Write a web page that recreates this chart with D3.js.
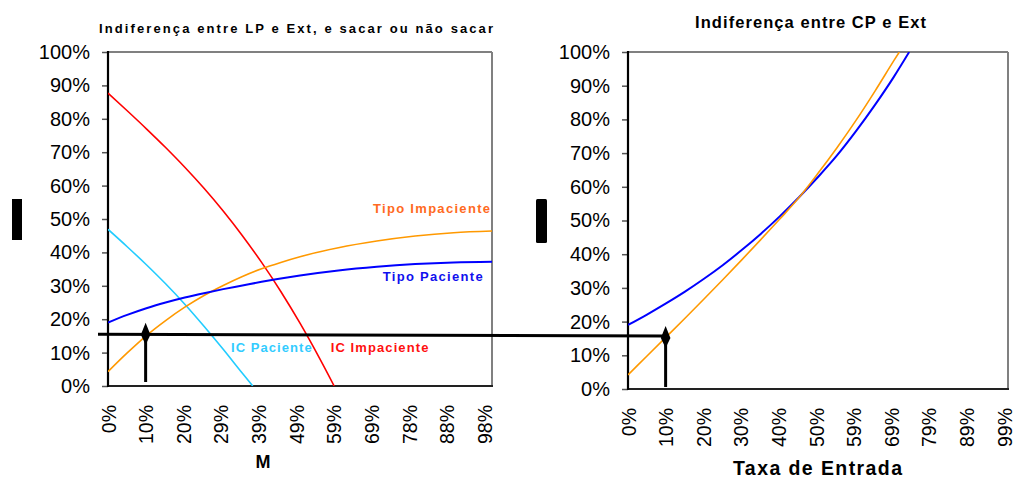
<!DOCTYPE html>
<html><head><meta charset="utf-8">
<script src="https://cdn.jsdelivr.net/npm/d3@7"></script>
<style>
html,body{margin:0;padding:0;background:#fff;}
svg{display:block;font-family:"Liberation Sans",Arial,sans-serif;}
</style></head>
<body><svg id="c" width="1015" height="479"></svg>
<script>
// ---------- data ----------
const yTickVals = [0,0.1,0.2,0.3,0.4,0.5,0.6,0.7,0.8,0.9,1.0];
const yTickLabels = ["0%","10%","20%","30%","40%","50%","60%","70%","80%","90%","100%"];

const xTickValsL = [0,0.098,0.196,0.294,0.392,0.49,0.588,0.686,0.784,0.882,0.98];
const xTickLabelsL = ["0%","10%","20%","29%","39%","49%","59%","69%","78%","88%","98%"];
const xTickValsR = [0,0.099,0.198,0.297,0.396,0.495,0.594,0.693,0.792,0.891,0.99];
const xTickLabelsR = ["0%","10%","20%","30%","40%","50%","59%","69%","79%","89%","99%"];

// Left chart: M vs value
const icImpM = [0,0.05,0.1,0.15,0.2,0.25,0.3,0.35,0.4,0.45,0.5,0.55,0.589];
const icImpV = [0.877,0.824,0.77,0.714,0.655,0.592,0.524,0.45,0.37,0.283,0.188,0.085,0];
const icPacM = [0,0.05,0.1,0.15,0.2,0.25,0.3,0.35,0.377];
const icPacV = [0.469,0.417,0.363,0.306,0.245,0.179,0.11,0.038,0];
const tipoImpM = [0,0.05,0.1,0.15,0.2,0.25,0.3,0.35,0.4,0.45,0.5,0.6,0.7,0.8,0.9,1.0];
const tipoImpV = [0.043,0.099,0.151,0.196,0.236,0.271,0.301,0.328,0.351,0.37,0.387,0.414,0.434,0.449,0.459,0.464];
const tipoPacM = [0,0.05,0.1,0.15,0.2,0.25,0.3,0.35,0.4,0.5,0.6,0.7,0.8,0.9,1.0];
const tipoPacV = [0.19,0.213,0.233,0.25,0.265,0.278,0.29,0.301,0.312,0.331,0.346,0.357,0.365,0.37,0.372];

// Right chart: Taxa de Entrada vs value
const rBlueT = [0,0.05,0.1,0.15,0.2,0.25,0.3,0.35,0.4,0.45,0.5,0.55,0.6,0.65,0.7,0.74];
const rBlueV = [0.19,0.221,0.254,0.289,0.327,0.368,0.413,0.461,0.513,0.569,0.629,0.693,0.765,0.843,0.927,1.0];
const rOrT = [0,0.05,0.1,0.15,0.2,0.25,0.3,0.35,0.4,0.45,0.5,0.55,0.6,0.65,0.7,0.714];
const rOrV = [0.042,0.098,0.154,0.21,0.267,0.325,0.384,0.444,0.505,0.568,0.64,0.716,0.797,0.884,0.975,1.0];

// annotation values
const refLevelL = 0.155, refLevelR = 0.157;
const arrowXL = 0.098, arrowXR = 0.099;
const arrowTipL = 0.189, arrowBaseL = 0.012;
const arrowTipR = 0.187, arrowBaseR = 0.006;

// ---------- drawing ----------
const svg = d3.select("#c");
const font = '"Liberation Sans",Arial,sans-serif';

const L = {x0:108, x1:492, y0:386, y1:52};
const R = {x0:628, x1:1008, y0:389, y1:52};
const xL = d3.scaleLinear().domain([0,1]).range([L.x0,L.x1]);
const yL = d3.scaleLinear().domain([0,1]).range([L.y0,L.y1]);
const xR = d3.scaleLinear().domain([0,1]).range([R.x0,R.x1]);
const yR = d3.scaleLinear().domain([0,1]).range([R.y0,R.y1]);

const defs = svg.append("defs");
defs.append("clipPath").attr("id","clipL").append("rect")
  .attr("x",L.x0).attr("y",L.y1).attr("width",L.x1-L.x0).attr("height",L.y0-L.y1);
defs.append("clipPath").attr("id","clipR").append("rect")
  .attr("x",R.x0).attr("y",R.y1).attr("width",R.x1-R.x0).attr("height",R.y0-R.y1);

function frame(P, x, y, xVals, xLabels){
  const ya = d3.axisLeft(y).tickValues(yTickVals).tickFormat((d,i)=>yTickLabels[i]).tickSize(6).tickPadding(12);
  const g = svg.append("g").attr("transform",`translate(${P.x0},0)`).call(ya);
  g.select(".domain").remove();
  g.selectAll(".tick line").attr("stroke","#555").attr("stroke-width",1.5);
  g.selectAll(".tick text").attr("font-family",font).attr("font-size","20px").attr("fill","#000");
  const xa = d3.axisBottom(x).tickValues(xVals).tickFormat((d,i)=>xLabels[i]).tickSize(0);
  const gx = svg.append("g").attr("transform",`translate(0,${P.y0})`).call(xa);
  gx.select(".domain").remove();
  gx.selectAll(".tick text")
    .attr("font-family",font).attr("font-size","19.5px").attr("fill","#000")
    .attr("text-anchor","end").attr("y",0).attr("x",0).attr("dy","0.36em")
    .attr("transform","translate(0,19) rotate(-90)");
  svg.append("line").attr("x1",P.x0).attr("x2",P.x1).attr("y1",P.y1).attr("y2",P.y1).attr("stroke","#808080").attr("stroke-width",2);
  svg.append("line").attr("x1",P.x1).attr("x2",P.x1).attr("y1",P.y1).attr("y2",P.y0).attr("stroke","#808080").attr("stroke-width",2);
  svg.append("line").attr("x1",P.x0).attr("x2",P.x1+1).attr("y1",P.y0).attr("y2",P.y0).attr("stroke","#222").attr("stroke-width",2);
  svg.append("line").attr("x1",P.x0).attr("x2",P.x0).attr("y1",P.y1-1).attr("y2",P.y0+1).attr("stroke","#000").attr("stroke-width",2.2);
}
frame(L,xL,yL,xTickValsL,xTickLabelsL);
frame(R,xR,yR,xTickValsR,xTickLabelsR);

function series(xs, vs, x, y, color, w, clip){
  const pts = xs.map((d,i)=>[d,vs[i]]);
  const line = d3.line().x(d=>x(d[0])).y(d=>y(d[1])).curve(d3.curveMonotoneX);
  svg.append("path").attr("d",line(pts)).attr("fill","none")
    .attr("stroke",color).attr("stroke-width",w).attr("clip-path",`url(#${clip})`);
}
series(icImpM, icImpV, xL, yL, "#FF0000", 1.6, "clipL");
series(icPacM, icPacV, xL, yL, "#22CCFF", 1.6, "clipL");
series(tipoImpM, tipoImpV, xL, yL, "#FF9900", 1.6, "clipL");
series(tipoPacM, tipoPacV, xL, yL, "#0000FF", 2, "clipL");
series(rBlueT, rBlueV, xR, yR, "#0000FF", 2, "clipR");
series(rOrT, rOrV, xR, yR, "#FF9900", 1.6, "clipR");

function lbl(text, x, y, w, color, size){
  svg.append("text").attr("x",x).attr("y",y).attr("fill",color)
    .attr("font-family",font).attr("font-weight","bold").attr("font-size",size)
    .attr("textLength",w).attr("lengthAdjust","spacing").text(text);
}
lbl("Tipo Impaciente", 373, 212.7, 117, "#FF6A22", "13px");
lbl("Tipo Paciente", 382.7, 281, 100, "#1010EE", "13px");
lbl("IC Paciente", 231, 351.7, 80.7, "#33CCFF", "13px");
lbl("IC Impaciente", 330.7, 352.3, 97.7, "#FF1010", "13px");

lbl("Indiferença entre LP  e Ext, e sacar ou não sacar", 99, 33.3, 394, "#000", "13px");
lbl("Indiferença entre CP e Ext", 695, 28.3, 231, "#000", "16.5px");

svg.append("text").attr("x",263).attr("y",468).attr("text-anchor","middle")
  .attr("font-family",font).attr("font-weight","bold").attr("font-size","18px").text("M");
lbl("Taxa de Entrada", 733, 475, 169, "#000", "19.5px");

svg.append("rect").attr("x",12).attr("y",199).attr("width",10).attr("height",41).attr("fill","#000");
svg.append("rect").attr("x",536).attr("y",199).attr("width",11).attr("height",44).attr("rx",1.5).attr("fill","#000");

svg.append("line")
  .attr("x1",xL(-0.026)).attr("y1",yL(refLevelL))
  .attr("x2",xR(arrowXR)).attr("y2",yR(refLevelR))
  .attr("stroke","#000").attr("stroke-width",3);

function arrow(xv, tip, base, x, y){
  const cx = x(xv), ty = y(tip), by = y(base);
  svg.append("line").attr("x1",cx).attr("x2",cx).attr("y1",ty+6).attr("y2",by)
    .attr("stroke","#000").attr("stroke-width",3);
  svg.append("path")
    .attr("d",`M${cx},${ty} L${cx+4.8},${ty+12} L${cx},${ty+22} L${cx-4.8},${ty+12} Z`)
    .attr("fill","#000");
}
arrow(arrowXL, arrowTipL, arrowBaseL, xL, yL);
arrow(arrowXR, arrowTipR, arrowBaseR, xR, yR);
</script></body></html>
